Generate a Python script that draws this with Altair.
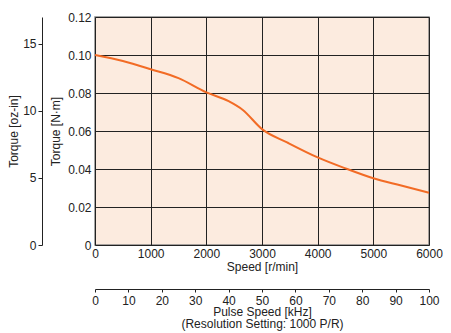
import altair as alt
import pandas as pd

# Speed-torque curve
speed_rpm = [0, 500, 1000, 1500, 2000, 2400, 2650, 3000, 3450, 4000, 4500, 5000, 5500, 6000]
torque_nm = [0.100, 0.0968, 0.0925, 0.0878, 0.0803, 0.0757, 0.0712, 0.0610, 0.0540, 0.0461, 0.0403, 0.0351, 0.0313, 0.0275]

speed_ticks = [0, 1000, 2000, 3000, 4000, 5000, 6000]
torque_ticks = [0, 0.02, 0.04, 0.06, 0.08, 0.10, 0.12]
ozin_ticks = [0, 5, 10, 15]
pulse_ticks = [0, 10, 20, 30, 40, 50, 60, 70, 80, 90, 100]

NM_TO_OZIN = 141.612
FONT = "Liberation Sans"

df = pd.DataFrame({"speed": speed_rpm, "torque": torque_nm})
df["pulse"] = df["speed"] / 60.0
df["ozin"] = df["torque"] * NM_TO_OZIN

main = alt.Chart(df).mark_line(
    color="#f26b25", strokeWidth=2, interpolate="monotone"
).encode(
    x=alt.X("speed:Q", scale=alt.Scale(domain=[0, 6000], nice=False),
            axis=alt.Axis(values=speed_ticks, title="Speed [r/min]", format="d",
                          ticks=False, domain=False, labelPadding=3, titlePadding=2,
                          labelFlush=False,
                          grid=True, gridColor="#222222", gridWidth=1, gridOpacity=1)),
    y=alt.Y("torque:Q", scale=alt.Scale(domain=[0, 0.12], nice=False),
            axis=alt.Axis(values=torque_ticks, title="Torque [N·m]",
                          labelExpr="datum.value == 0 ? '0' : format(datum.value, '.2f')",
                          ticks=False, domain=False, labelPadding=4, titlePadding=5,
                          grid=True, gridColor="#222222", gridWidth=1, gridOpacity=1)),
)

second = alt.Chart(df).mark_line(opacity=0).encode(
    x=alt.X("pulse:Q", scale=alt.Scale(domain=[0, 100], nice=False),
            axis=alt.Axis(orient="bottom", offset=44, values=pulse_ticks,
                          title=["Pulse Speed [kHz]", "(Resolution Setting: 1000 P/R)"],
                          titleLineHeight=12, tickSize=3, tickColor="#222222",
                          domainColor="#222222", labelPadding=3, titlePadding=0,
                          labelFlush=False, grid=False)),
    y=alt.Y("ozin:Q", scale=alt.Scale(domain=[0, 0.12 * NM_TO_OZIN], nice=False),
            axis=alt.Axis(orient="left", offset=53, values=ozin_ticks,
                          title="Torque [oz-in]", tickSize=4, tickColor="#222222",
                          domainColor="#222222", labelPadding=2, titlePadding=2,
                          grid=False)),
)

chart = alt.layer(main, second).resolve_scale(
    x="independent", y="independent"
).properties(
    width=334, height=228,
    autosize=alt.AutoSizeParams(type="none"),
    padding={"left": 87, "top": 9, "right": 14, "bottom": 88},
).configure_view(
    fill="#fcebdf", stroke="#888888", strokeWidth=1.5
).configure_axis(
    labelFont=FONT, titleFont=FONT, labelFontSize=12, titleFontSize=12,
    labelColor="#222222", titleColor="#222222", titleFontWeight="normal"
)

chart.save("out.html", embed_options={"renderer": "svg", "actions": False})
